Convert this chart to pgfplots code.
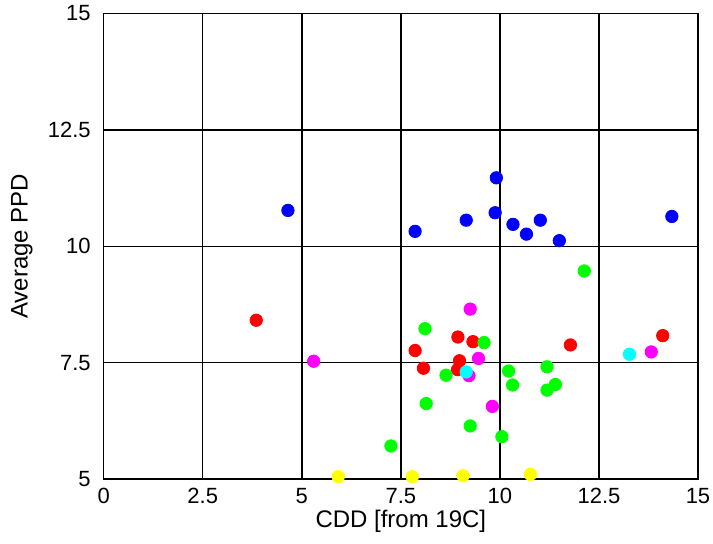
\documentclass[border=0pt]{standalone}
\usepackage{fontspec}
\setmainfont{Liberation Sans}
\usepackage{pgfplots}
\pgfplotsset{compat=1.18}

\definecolor{mblue}{RGB}{0,0,255}
\definecolor{mred}{RGB}{255,0,0}
\definecolor{mgreen}{RGB}{0,255,0}
\definecolor{mmagenta}{RGB}{255,0,255}
\definecolor{mcyan}{RGB}{0,255,255}
\definecolor{myellow}{RGB}{255,255,0}

\begin{document}
\begin{tikzpicture}
\begin{axis}[
    scale only axis,
    width=297.15pt,
    height=232.75pt,
    xmin=0, xmax=15,
    ymin=5, ymax=15,
    xtick={0,2.5,5,7.5,10,12.5,15},
    ytick={5,7.5,10,12.5,15},
    grid=major,
    grid style={black, line width=0.75pt},
    axis line style={black, line width=0.75pt},
    major tick length=0pt,
    tick label style={font=\fontsize{11}{13}\selectfont},
    /pgf/number format/assume math mode=true,
    xticklabel style={yshift=-1pt},
    yticklabel style={xshift=-3pt},
    xlabel={CDD [from 19C]},
    ylabel={Average PPD},
    label style={font=\fontsize{12}{14}\selectfont},
    xlabel style={anchor=center, at={(axis description cs:0.5,-0.0902)}},
    ylabel style={anchor=center, at={(axis description cs:-0.1375,0.5)}},
    clip=false,
    every axis plot/.append style={only marks, mark=*, mark size=3.1pt},
]
% blue
\addplot[mark options={draw=mblue, fill=mblue}] coordinates {
(4.65,10.77) (7.86,10.32) (9.15,10.56) (9.91,11.47) (9.88,10.72)
(10.33,10.47) (10.67,10.26) (11.02,10.56) (11.50,10.12) (14.34,10.64)
};
% red
\addplot[mark options={draw=mred, fill=mred}] coordinates {
(3.85,8.41) (7.86,7.76) (8.07,7.38) (8.94,8.05) (8.98,7.54)
(8.93,7.35) (9.32,7.95) (11.78,7.88) (14.11,8.08)
};
% green
\addplot[mark options={draw=mgreen, fill=mgreen}] coordinates {
(8.11,8.23) (9.60,7.93) (8.64,7.23) (10.22,7.32) (11.19,7.41)
(10.32,7.02) (11.40,7.03) (11.19,6.91) (8.14,6.62) (9.25,6.14)
(10.05,5.91) (7.25,5.71) (12.13,9.47)
};
% magenta
\addplot[mark options={draw=mmagenta, fill=mmagenta}] coordinates {
(5.30,7.53) (9.25,8.65) (9.46,7.59) (9.22,7.22) (9.81,6.56) (13.82,7.73)
};
% cyan
\addplot[mark options={draw=mcyan, fill=mcyan}] coordinates {
(9.15,7.30) (13.27,7.68)
};
% yellow
\addplot[mark options={draw=myellow, fill=myellow}] coordinates {
(5.92,5.05) (7.79,5.05) (9.07,5.07) (10.77,5.10)
};
\end{axis}
\pgfresetboundingbox
\path (-51.85pt,-32pt) rectangle (304.65pt,239.5pt);
\end{tikzpicture}
\end{document}
